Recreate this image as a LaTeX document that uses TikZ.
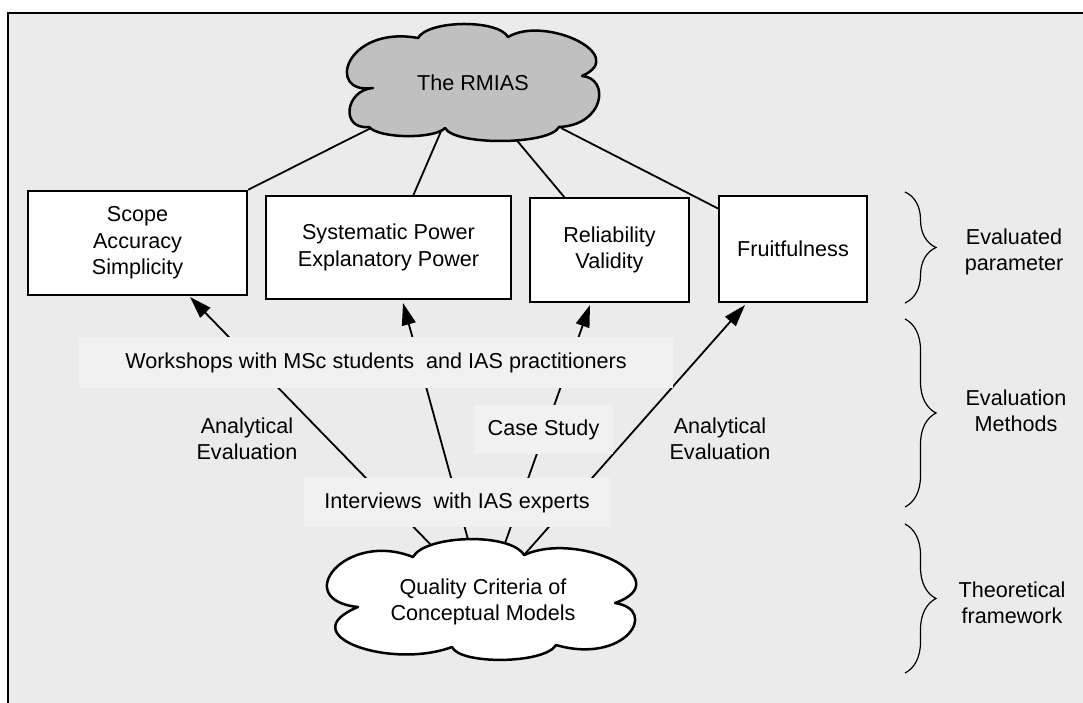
\documentclass[tikz,border=0pt]{standalone}
\usepackage{fontspec}
\setmainfont{Liberation Sans}
\usetikzlibrary{arrows.meta,decorations.pathreplacing}
\definecolor{bgc}{HTML}{EBEBEB}
\definecolor{lblc}{HTML}{F1F1F1}
\definecolor{cloudg}{HTML}{C0C0C0}
\begin{document}
\begin{tikzpicture}[x=1pt,y=-1pt,
  font=\fontsize{21.6}{26.5}\selectfont,
  box/.style={draw, line width=2.5pt, fill=white, inner sep=0pt, align=center},
  lbl/.style={fill=lblc, inner sep=0pt, align=center},
  plain/.style={inner sep=0pt, align=center},
  conn/.style={line width=1.8pt},
  arr/.style={line width=1.8pt, -{Triangle[length=22pt,width=14pt]}},
  cloudline/.style={draw, line width=2.5pt, line join=round},
  br/.style={decorate, decoration={brace, amplitude=31pt}, line width=1.2pt}
]
\useasboundingbox (0,0) rectangle (1083,703);
\clip (0,0) rectangle (1083,703);
\fill[white] (0,0) rectangle (1083,703);
\draw[line width=2.5pt, fill=bgc] (8,13) rectangle (1100,720);

% boxes
\node[box, minimum width=219pt, minimum height=104pt] (b1) at (137.5,243) {Scope\\Accuracy\\Simplicity};
\node[box, minimum width=245pt, minimum height=103pt] (b2) at (388.5,247.5) {Systematic Power\\Explanatory Power};
\node[box, minimum width=159pt, minimum height=104pt] (b3) at (609.5,250) {Reliability\\Validity};
\node[box, minimum width=148pt, minimum height=106pt] (b4) at (793,249) {Fruitfulness};

% connection points
\coordinate (r1) at (371,128);
\coordinate (r2) at (442,129);
\coordinate (r3) at (514,137);
\coordinate (r4) at (561,128);
\coordinate (t2) at (413,196);
\coordinate (t3) at (565,198);
\coordinate (t4) at (719,209);
\coordinate (q1) at (432,546);
\coordinate (q2) at (469,543);
\coordinate (q3) at (504,546);
\coordinate (q4) at (524,555);
\coordinate (a1) at (190,297);
\coordinate (a2) at (403,303);
\coordinate (a3) at (590,305);
\coordinate (a4) at (745,305);

\draw[conn] (r1) -- (b1.north east);
\draw[conn] (r2) -- (t2);
\draw[conn] (r3) -- (t3);
\draw[conn] (r4) -- (t4);

\draw[arr] (q1) -- (a1);
\draw[arr] (q2) -- (a2);
\draw[arr] (q3) -- (a3);
\draw[arr] (q4) -- (a4);

% top cloud
\path[cloudline, fill=cloudg]
  (373,88) .. controls (325,95) and (345,25) .. (418,38)
  .. controls (428,20) and (498,19) .. (508,37)
  .. controls (545,15) and (630,55) .. (582,76)
  .. controls (610,78) and (605,125) .. (559,127)
  .. controls (550,145) and (455,146) .. (445,128)
  .. controls (435,139) and (380,139) .. (369,127)
  .. controls (340,130) and (345,90) .. cycle;
\node[plain] (rm) at (473,83) {The RMIAS};

% bottom cloud
\path[cloudline, fill=white]
  (358,607) .. controls (290,600) and (345,530) .. (413,557)
  .. controls (425,535) and (510,532) .. (524,555)
  .. controls (580,530) and (680,580) .. (615,603)
  .. controls (660,610) and (625,665) .. (556,645)
  .. controls (545,664) and (460,665) .. (452,647)
  .. controls (390,670) and (290,635) .. cycle;
\node[plain] (qc) at (483,602) {Quality Criteria of\\Conceptual Models};

% method labels
\node[lbl, minimum width=594pt, minimum height=51pt] (wk) at (376,362.5) {Workshops with MSc students\ \ and IAS practitioners};
\node[lbl, minimum width=139pt, minimum height=49pt] (cs) at (543.5,429.5) {Case Study};
\node[lbl, minimum width=306pt, minimum height=49pt] (iv) at (457,502.5) {Interviews\ \ with IAS experts};
\node[plain] (ae1) at (247,439) {Analytical\\Evaluation};
\node[plain] (ae2) at (720,439) {Analytical\\Evaluation};

% braces
\coordinate (p1a) at (905,192); \coordinate (p1b) at (905,303);
\coordinate (p2a) at (905,319); \coordinate (p2b) at (905,507);
\coordinate (p3a) at (905,524); \coordinate (p3b) at (905,673);
\draw[br] (p1a) -- (p1b);
\draw[br] (p2a) -- (p2b);
\draw[br] (p3a) -- (p3b);
\node[plain] (ep) at (1014,252) {Evaluated\\parameter};
\node[plain] (em) at (1016,411) {Evaluation\\Methods};
\node[plain] (tf) at (1012,603) {Theoretical\\framework};
\end{tikzpicture}
\end{document}
